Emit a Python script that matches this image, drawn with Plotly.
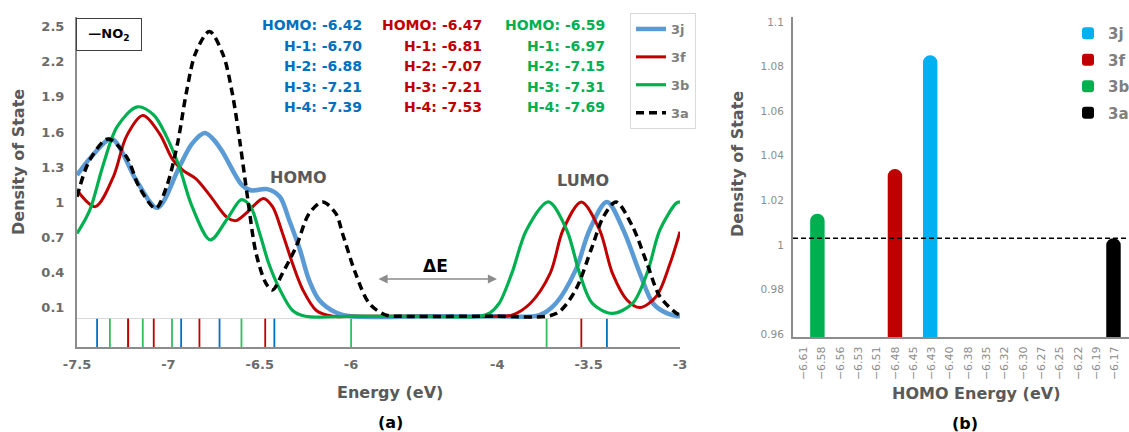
import plotly.graph_objects as go

W, H = 1129, 432
FONT = "DejaVu Sans"

# ---------------- data : panel (a) ----------------
# broken energy axis: -6 .. -4 is compressed
K_MID = 0.4

energy_ticks = [-7.5, -7, -6.5, -6, -4, -3.5, -3]
energy_tick_text = ["-7.5", "-7", "-6.5", "-6", "-4", "-3.5", "-3"]
dos_ticks = [0.1, 0.4, 0.7, 1.0, 1.3, 1.6, 1.9, 2.2, 2.5]
dos_tick_text = ["0.1", "0.4", "0.7", "1", "1.3", "1.6", "1.9", "2.2", "2.5"]

e_3j = [-7.5, -7.42, -7.31, -7.17, -7.06, -6.94, -6.87, -6.80, -6.75, -6.70, -6.60, -6.55,
        -6.46, -6.39, -6.34, -6.28, -6.23, -6.175, -6.08, -6.0, -5.0, -4.0, -3.77, -3.68,
        -3.57, -3.495, -3.40, -3.31, -3.22, -3.147, -3.07, -3.0]
d_3j = [1.23, 1.39, 1.54, 1.17, 0.95, 1.30, 1.50, 1.59, 1.53, 1.42, 1.15, 1.10,
        1.11, 1.045, 0.85, 0.59, 0.33, 0.16, 0.05, 0.02, 0.02, 0.02, 0.03, 0.13,
        0.42, 0.76, 1.0, 0.76, 0.39, 0.13, 0.045, 0.02]

e_3f = [-7.5, -7.40, -7.30, -7.23, -7.14, -7.05, -6.975, -6.92, -6.85, -6.77, -6.68, -6.63,
        -6.57, -6.48, -6.43, -6.375, -6.32, -6.265, -6.19, -6.10, -6.0, -5.0, -4.0, -3.92,
        -3.82, -3.71, -3.64, -3.54, -3.44, -3.37, -3.29, -3.22, -3.13, -3.055, -3.0]
d_3f = [1.10, 0.96, 1.22, 1.56, 1.74, 1.59, 1.36, 1.27, 1.20, 1.05, 0.87, 0.84,
        0.91, 1.03, 0.96, 0.73, 0.47, 0.25, 0.07, 0.02, 0.02, 0.02, 0.02, 0.03,
        0.13, 0.39, 0.76, 1.0, 0.76, 0.39, 0.16, 0.095, 0.19, 0.47, 0.745]

e_3b = [-7.5, -7.43, -7.36, -7.28, -7.17, -7.08, -7.01, -6.94, -6.87, -6.77, -6.68, -6.60,
        -6.55, -6.50, -6.45, -6.39, -6.32, -6.25, -6.0, -5.0, -4.25, -4.10, -3.99, -3.92,
        -3.84, -3.72, -3.62, -3.55, -3.48, -3.37, -3.26, -3.18, -3.11, -3.02, -3.0]
d_3b = [0.73, 0.93, 1.30, 1.645, 1.815, 1.745, 1.56, 1.30, 0.96, 0.675, 0.85, 1.02,
        0.96, 0.73, 0.47, 0.25, 0.07, 0.02, 0.02, 0.02, 0.02, 0.05, 0.13, 0.39,
        0.76, 1.0, 0.76, 0.39, 0.13, 0.045, 0.13, 0.39, 0.76, 0.99, 1.0]

e_3a = [-7.5, -7.43, -7.33, -7.23, -7.16, -7.07, -7.01, -6.95, -6.90, -6.85, -6.775, -6.70,
        -6.65, -6.61, -6.565, -6.52, -6.465, -6.43, -6.375, -6.30, -6.23, -6.156, -6.083,
        -6.047, -5.94, -5.75, -5.52, -5.3, -4.5, -4.0, -3.73, -3.66, -3.57, -3.48, -3.42,
        -3.35, -3.26, -3.18, -3.11, -3.02, -3.0]
d_3a = [1.045, 1.36, 1.54, 1.39, 1.13, 0.945, 1.13, 1.50, 1.95, 2.28, 2.46, 2.26,
        1.93, 1.53, 1.02, 0.56, 0.30, 0.246, 0.39, 0.62, 0.90, 1.0, 0.90,
        0.73, 0.39, 0.13, 0.03, 0.02, 0.02, 0.02, 0.02, 0.06, 0.25, 0.62, 0.87,
        1.0, 0.79, 0.47, 0.19, 0.046, 0.03]

# stick spectrum (orbital levels) shown under the curves
sticks_3j = [-7.39, -7.22, -6.93, -6.72, -6.42, -3.40]
sticks_3b = [-7.32, -7.14, -6.98, -6.60, -6.00, -3.73]
sticks_3f = [-7.22, -7.08, -6.83, -6.47, -3.54]

# orbital energy listing
orbital_labels = ["HOMO", "H-1", "H-2", "H-3", "H-4"]
levels_3j = [-6.42, -6.70, -6.88, -7.21, -7.39]
levels_3f = [-6.47, -6.81, -7.07, -7.21, -7.53]
levels_3b = [-6.59, -6.97, -7.15, -7.31, -7.69]

# ---------------- data : panel (b) ----------------
bar_names = ["3j", "3f", "3b", "3a"]
bar_homo = [-6.43, -6.48, -6.59, -6.17]
bar_dos = [1.085, 1.034, 1.014, 1.003]
bar_ticks = [0.96, 0.98, 1.0, 1.02, 1.04, 1.06, 1.08, 1.1]
bar_tick_text = ["0.96", "0.98", "1", "1.02", "1.04", "1.06", "1.08", "1.1"]

# ---------------- styles ----------------
C_BLUE_LINE = "#5b9bd5"
C_RED = "#c00000"
C_GREEN = "#00b050"
C_BLUE_TXT = "#0070c0"
GREY_TXT = "#595959"
AXIS_GREY = "#8c8c8c"


def to_axis(e):
    if e <= -6:
        return e
    if e <= -4:
        return -6 + (e + 6) * K_MID
    return -6 + 2 * K_MID + (e + 4)


def px(x):
    return x / W


def py(y):
    return 1 - y / H


fig = go.Figure()

curves = [
    ("3j", e_3j, d_3j, dict(color=C_BLUE_LINE, width=4.5)),
    ("3f", e_3f, d_3f, dict(color=C_RED, width=3)),
    ("3b", e_3b, d_3b, dict(color=C_GREEN, width=3.2)),
    ("3a", e_3a, d_3a, dict(color="black", width=3.5, dash="8px,5px")),
]

# sticks first (under curves)
for vals, col in [(sticks_3j, C_BLUE_TXT), (sticks_3b, "#2fbf5f"), (sticks_3f, C_RED)]:
    xs, ys = [], []
    for v in vals:
        xs += [to_axis(v), to_axis(v), None]
        ys += [0, -0.4, None]
    fig.add_trace(go.Scatter(x=xs, y=ys, mode="lines", line=dict(color=col, width=1.8),
                             showlegend=False, hoverinfo="skip", xaxis="x", yaxis="y"))

for name, es, ds, ln in curves:
    fig.add_trace(go.Scatter(
        x=[to_axis(e) for e in es], y=ds, mode="lines", name=name,
        line=dict(shape="spline", smoothing=0.9, **ln),
        legend="legend", legendgroup=name, xaxis="x", yaxis="y"))

bar_colors = ["#00b0f0", C_RED, C_GREEN, "#000000"]
for n, h, d, c in zip(bar_names, bar_homo, bar_dos, bar_colors):
    fig.add_trace(go.Bar(x=[h], y=[d], name=n, width=0.0205,
                         marker=dict(color=c, cornerradius=7, line=dict(width=0)),
                         legend="legend2", legendgroup="b" + n, xaxis="x2", yaxis="y2"))

annotations = []


def ann(text, x, y, size, color, **kw):
    d = dict(text=text, x=px(x), y=py(y), xref="paper", yref="paper", showarrow=False,
             xanchor="center", yanchor="middle",
             font=dict(family=FONT, size=size, color=color, weight="bold"))
    d.update(kw)
    annotations.append(d)


# orbital listing
for right_x, levels, col in [(364, levels_3j, C_BLUE_TXT), (484, levels_3f, C_RED),
                             (607, levels_3b, C_GREEN)]:
    for i, (lab, v) in enumerate(zip(orbital_labels, levels)):
        ann(f"{lab}: {v:.2f}", right_x, 25 + i * 20.5, 14, col, xanchor="right")

ann("Density of State", 18, 162, 16, GREY_TXT, textangle=-90)
ann("Energy (eV)", 390, 392, 16, GREY_TXT)
ann("(a)", 390, 422, 16, "black")
ann("HOMO", 298, 178, 16, GREY_TXT)
ann("LUMO", 583, 180, 16, GREY_TXT)
ann("ΔE", 436, 266, 17, "black")
ann("—NO<sub>2</sub>", 109, 35, 13, "black", bordercolor="#404040", borderwidth=1,
    bgcolor="white", width=62, height=29, borderpad=1)

annotations.append(dict(x=px(497), y=py(279), xref="paper", yref="paper", ax=-120, ay=0,
                        axref="pixel", ayref="pixel", text="", showarrow=True,
                        arrowhead=2, startarrowhead=2, arrowside="end+start",
                        arrowsize=1.3, arrowwidth=1.4, arrowcolor="#8c8c8c"))

ann("Density of State", 737, 164, 16, GREY_TXT, textangle=-90)
ann("HOMO Energy (eV)", 976, 393, 16, GREY_TXT)
ann("(b)", 965, 423, 16, "black")

tick_font_a = dict(family=FONT, size=13, color="#6b6b6b", weight="bold")
tick_font_b = dict(family=FONT, size=11, color="#8c8c8c")

fig.update_layout(
    width=W, height=H, margin=dict(l=0, r=0, t=0, b=0, autoexpand=False),
    paper_bgcolor="white", plot_bgcolor="white",
    barmode="overlay",
    font=dict(family=FONT),
    xaxis=dict(domain=[px(77), px(680)], range=[-7.5, to_axis(-3)], anchor="y",
               tickvals=[to_axis(e) for e in energy_ticks], ticktext=energy_tick_text,
               showline=True, linecolor=AXIS_GREY, linewidth=2, showgrid=False,
               zeroline=False, ticks="", tickfont=tick_font_a, ticklabelstandoff=4),
    yaxis=dict(domain=[py(347), py(17)], range=[-0.243, 2.585], anchor="x",
               tickvals=dos_ticks, ticktext=dos_tick_text,
               showline=True, linecolor=AXIS_GREY, linewidth=2, showgrid=False,
               zeroline=True, zerolinecolor="#d9d9d9", zerolinewidth=1,
               ticks="", tickfont=tick_font_a, ticklabelstandoff=8),
    xaxis2=dict(domain=[px(793), 1.0], range=[-6.6246, -6.148], anchor="y2",
                tick0=-6.61, dtick=0.026, tickformat=".2f", tickangle=-90,
                showline=True, linecolor=AXIS_GREY, linewidth=2, showgrid=False,
                zeroline=False, ticks="", tickfont=tick_font_b, ticklabelstandoff=3),
    yaxis2=dict(domain=[py(337), py(17)], range=[0.9587, 1.1022], anchor="x2",
                tickvals=bar_ticks, ticktext=bar_tick_text,
                showline=True, linecolor=AXIS_GREY, linewidth=2, showgrid=False,
                zeroline=False, ticks="", tickfont=dict(family=FONT, size=10.5, color="#8c8c8c"),
                ticklabelstandoff=5),
    legend=dict(x=px(630), y=py(13), xanchor="left", yanchor="top",
                bordercolor="#d9d9d9", borderwidth=1, bgcolor="white",
                font=dict(family=FONT, size=13, color="#7f7f7f", weight="bold"),
                tracegroupgap=8, itemwidth=30),
    legend2=dict(x=px(1068), y=py(17), xanchor="left", yanchor="top",
                 bgcolor="rgba(0,0,0,0)", borderwidth=0,
                 font=dict(family=FONT, size=15, color="#7f7f7f", weight="bold"),
                 tracegroupgap=4),
    annotations=annotations,
    shapes=[dict(type="line", xref="x2 domain", x0=0, x1=1, yref="y2",
                 y0=bar_dos[3], y1=bar_dos[3], line=dict(color="black", width=1.5, dash="5px,3px"))],
    showlegend=True,
)

fig.write_html("out.html")
